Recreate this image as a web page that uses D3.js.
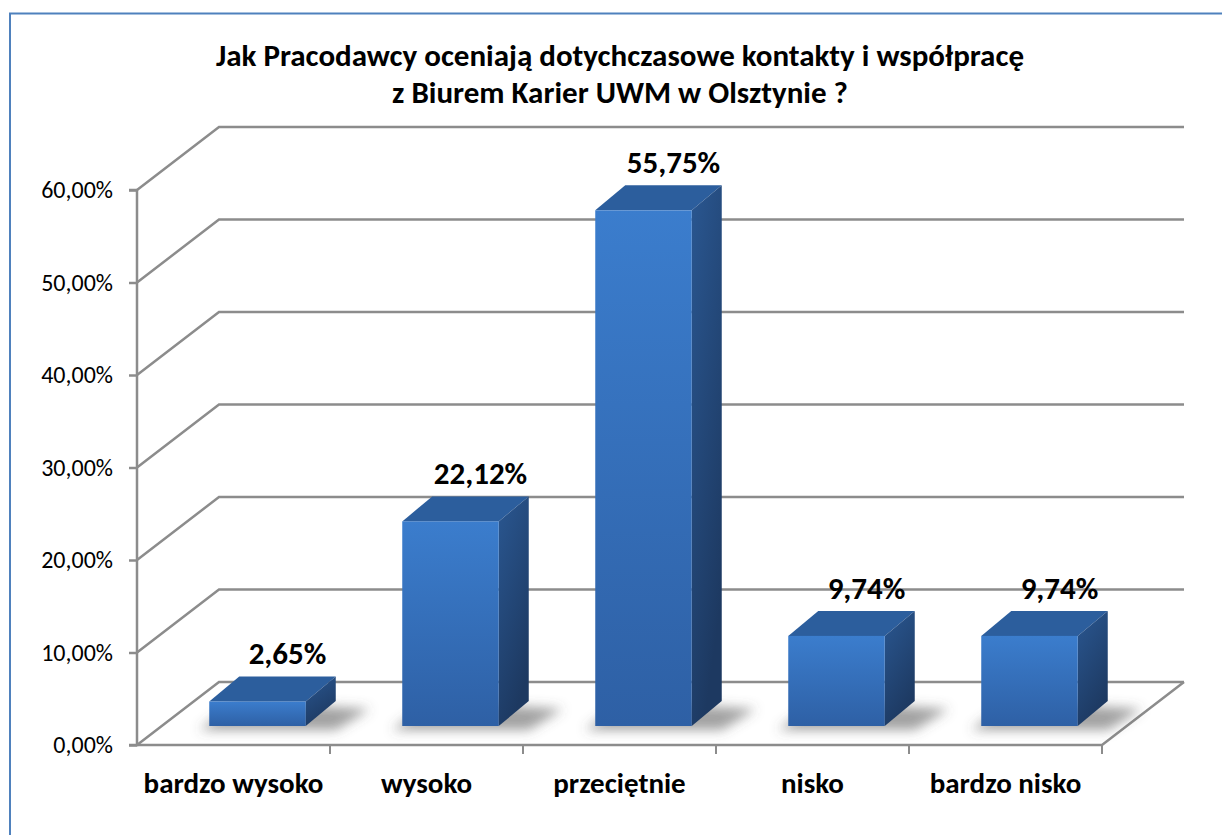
<!DOCTYPE html>
<html>
<head>
<meta charset="utf-8">
<script src="https://cdn.jsdelivr.net/npm/d3@7"></script>
<style>
	body { margin: 0; background: #fff; }
	svg { display: block; font-family: Carlito, Calibri, Lato, sans-serif; }
</style>
</head>
<body>
<script>
// Chart data
const titleLines = ['Jak Pracodawcy oceniają dotychczasowe kontakty i współpracę', 'z Biurem Karier UWM w Olsztynie ?'];
const categories = ['bardzo wysoko', 'wysoko', 'przeciętnie', 'nisko', 'bardzo nisko'];
const values = [0.0265, 0.2212, 0.5575, 0.0974, 0.0974];
const yTicks = [0, 0.1, 0.2, 0.3, 0.4, 0.5, 0.6];

const width = 1222;
const height = 835;

// 3D offsets: back wall, bar front plane, bar back plane
const wall = {dx: 82, dy: -63};
const barFront = {dx: 24, dy: -19};
const barBack = {dx: 54, dy: -44};

const pl = d3.formatLocale({decimal: ',', thousands: ' ', grouping: [3], currency: ['', ' zł']});
const pct = pl.format('.2%');

const svg = d3.select('body').append('svg').attr('width', width).attr('height', height);

// Outer chart border (only top/left in view)
svg.append('rect')
	.attr('x', 10).attr('y', 13.5)
	.attr('width', 1300).attr('height', 900)
	.attr('fill', 'none')
	.attr('stroke', '#4f81bd')
	.attr('stroke-width', 2);

// Scales
const x = d3.scaleBand().domain(categories).range([137, 1102]).paddingInner(0.5).paddingOuter(0.25);
const xCat = d3.scaleBand().domain(categories).range([137, 1102]);
const y = d3.scaleLinear().domain([0, 0.6]).range([745, 190]);

const defs = svg.append('defs');
const front = defs.append('linearGradient').attr('id', 'front').attr('x1', 0).attr('y1', 0).attr('x2', 0).attr('y2', 1);
front.append('stop').attr('offset', '0%').attr('stop-color', '#3b7dcd');
front.append('stop').attr('offset', '100%').attr('stop-color', '#2e60a5');
const side = defs.append('linearGradient').attr('id', 'side').attr('x1', 0).attr('y1', 0).attr('x2', 0.4).attr('y2', 1);
side.append('stop').attr('offset', '0%').attr('stop-color', '#2a5791');
side.append('stop').attr('offset', '100%').attr('stop-color', '#1d3961');
defs.append('filter').attr('id', 'blur').attr('x', '-50%').attr('y', '-50%').attr('width', '200%').attr('height', '200%')
	.append('feGaussianBlur').attr('stdDeviation', 6);

const gridColor = '#8c8c8c';

// Gridlines on left and back wall
const grid = svg.append('g').attr('fill', 'none').attr('stroke', gridColor).attr('stroke-width', 2.5);
grid.selectAll('path')
	.data(yTicks)
	.enter()
	.append('path')
	.attr('d', (d) => `M${137},${y(d)} L${137 + wall.dx},${y(d) + wall.dy} L${1102 + wall.dx},${y(d) + wall.dy}`);

// Floor edges
grid.append('path')
	.attr('d', `M137,${y(0)} L1102,${y(0)} L${1102 + wall.dx},${y(0) + wall.dy}`);

// Category ticks
grid.selectAll('line.cat')
	.data(categories.slice(1).concat(['end']))
	.enter()
	.append('line')
	.attr('class', 'cat')
	.attr('x1', (d, i) => 137 + xCat.step() * (i + 1))
	.attr('x2', (d, i) => 137 + xCat.step() * (i + 1))
	.attr('y1', y(0))
	.attr('y2', y(0) + 9)
	.attr('stroke-width', 2);

// Y axis
const yAxis = svg.append('g')
	.attr('transform', 'translate(137,0)')
	.call(d3.axisLeft(y).tickValues(yTicks).tickSize(8).tickPadding(16).tickFormat(pct));
yAxis.selectAll('path, line').attr('stroke', gridColor).attr('stroke-width', 2.5);
yAxis.select('path').attr('d', `M-8,${y(0.6)} H0 V${y(0)} H-8`);
yAxis.selectAll('text').attr('font-size', 24).attr('fill', '#000').attr('font-family', 'Carlito, Calibri, Lato, sans-serif');

// Bar shadows
svg.append('g')
	.attr('filter', 'url(#blur)')
	.selectAll('path')
	.data(values)
	.enter()
	.append('path')
	.attr('fill', '#555')
	.attr('opacity', 0.55)
	.attr('d', (d, i) => {
		const x0 = x(categories[i]), x1 = x0 + x.bandwidth(), b = y(0);
		return `M${x0 + barFront.dx - 10},${b + barFront.dy + 4} L${x1 + barFront.dx + 30},${b + barFront.dy + 4} L${x1 + barBack.dx + 34},${b + barBack.dy + 8} L${x0 + barBack.dx},${b + barBack.dy}Z`;
	});

// Bars
const bars = svg.append('g').selectAll('g').data(values).enter().append('g');

bars.append('path')
	.attr('fill', '#2c5e9d')
	.attr('d', (d, i) => {
		const x0 = x(categories[i]), x1 = x0 + x.bandwidth(), t = y(d);
		return `M${x0 + barFront.dx},${t + barFront.dy} L${x0 + barBack.dx},${t + barBack.dy} L${x1 + barBack.dx},${t + barBack.dy} L${x1 + barFront.dx},${t + barFront.dy}Z`;
	});

bars.append('path')
	.attr('fill', 'url(#side)')
	.attr('d', (d, i) => {
		const x1 = x(categories[i]) + x.bandwidth(), t = y(d), b = y(0);
		return `M${x1 + barFront.dx},${t + barFront.dy} L${x1 + barBack.dx},${t + barBack.dy} L${x1 + barBack.dx},${b + barBack.dy} L${x1 + barFront.dx},${b + barFront.dy}Z`;
	});

bars.append('rect')
	.attr('fill', 'url(#front)')
	.attr('x', (d, i) => x(categories[i]) + barFront.dx)
	.attr('y', (d) => y(d) + barFront.dy)
	.attr('width', x.bandwidth())
	.attr('height', (d) => y(0) - y(d));

// Value labels
svg.append('g')
	.selectAll('text')
	.data(values)
	.enter()
	.append('text')
	.attr('x', (d, i) => x(categories[i]) + x.bandwidth() / 2 + barBack.dx)
	.attr('y', (d) => y(d) + barBack.dy - 12)
	.attr('text-anchor', 'middle')
	.attr('font-size', 31)
	.attr('font-weight', 'bold')
	.text((d) => pct(d));

// Category labels
svg.append('g')
	.selectAll('text')
	.data(categories)
	.enter()
	.append('text')
	.attr('x', (d) => xCat(d) + xCat.bandwidth() / 2)
	.attr('y', 793)
	.attr('text-anchor', 'middle')
	.attr('font-size', 29)
	.attr('font-weight', 'bold')
	.text((d) => d);

// Title
svg.append('g')
	.selectAll('text')
	.data(titleLines)
	.enter()
	.append('text')
	.attr('x', 620)
	.attr('y', (d, i) => 66 + i * 37)
	.attr('text-anchor', 'middle')
	.attr('font-size', 31)
	.attr('font-weight', 'bold')
	.text((d) => d);
</script>
</body>
</html>
